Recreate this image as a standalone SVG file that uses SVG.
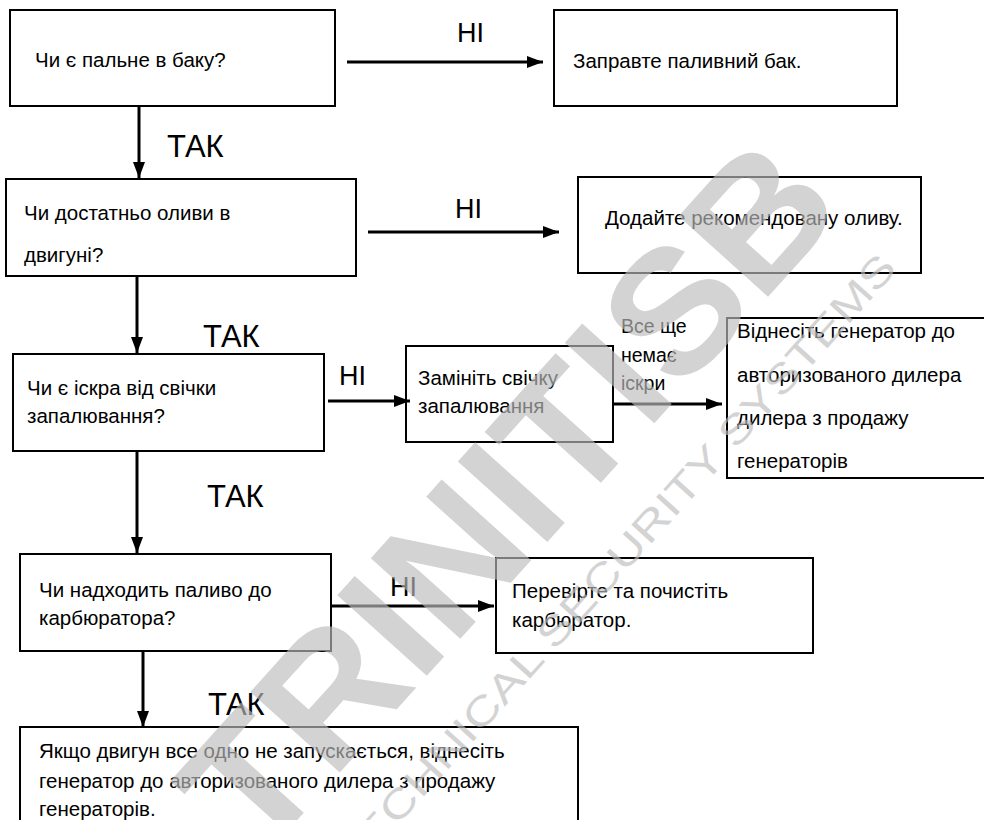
<svg xmlns="http://www.w3.org/2000/svg" width="984" height="820" viewBox="0 0 984 820">
<defs>
<style>
.box{fill:#fff;stroke:#000;stroke-width:2}
.t{font-family:"Liberation Sans",Arial,sans-serif;font-size:20.5px;fill:#000}
.s{font-family:"Liberation Sans",Arial,sans-serif;font-size:19.5px;fill:#000}
.no{font-family:"Liberation Sans",Arial,sans-serif;font-size:27px;fill:#000}
.yes{font-family:"Liberation Sans",Arial,sans-serif;font-size:31px;fill:#000}
.c{stroke:#000;stroke-width:3;fill:none;marker-end:url(#ah)}
.wm{font-family:"Liberation Sans",Arial,sans-serif;fill:#bdbdbd}
</style>
<marker id="ah" markerUnits="userSpaceOnUse" markerWidth="16" markerHeight="12" refX="16" refY="6" orient="auto">
<path d="M0,0 L16,6 L0,12 z" fill="#000"/>
</marker>
</defs>
<rect width="984" height="820" fill="#fff"/>

<g id="n1"><rect class="box" x="10" y="10" width="325" height="96"/><text class="t" x="35" y="67">Чи є пальне в баку?</text></g>
<g id="n2"><rect class="box" x="554" y="10" width="343" height="96"/><text class="t" x="573" y="68">Заправте паливний бак.</text></g>
<g id="n3"><rect class="box" x="6" y="179" width="350" height="97"/><text class="t" x="24" y="220">Чи достатньо оливи в</text><text class="t" x="24" y="262">двигуні?</text></g>
<g id="n4"><rect class="box" x="578" y="177" width="343" height="96"/><text class="t" x="605" y="225">Додайте рекомендовану оливу.</text></g>
<g id="n5"><rect class="box" x="13" y="354" width="311" height="97"/><text class="t" x="27" y="395">Чи є іскра від свічки</text><text class="t" x="27" y="423">запалювання?</text></g>
<g id="n6"><rect class="box" x="406" y="346" width="207" height="96"/><text class="t" x="418" y="385">Замініть свічку</text><text class="t" x="418" y="413">запалювання</text></g>
<g id="n7"><rect class="box" x="727" y="318" width="280" height="160"/><text class="t" x="737" y="338">Віднесіть генератор до</text><text class="t" x="737" y="382">авторизованого дилера</text><text class="t" x="737" y="425">дилера з продажу</text><text class="t" x="737" y="468">генераторів</text></g>
<g id="n8"><rect class="box" x="20" y="554" width="311" height="97"/><text class="t" x="39" y="597">Чи надходить паливо до</text><text class="t" x="39" y="625">карбюратора?</text></g>
<g id="n9"><rect class="box" x="496" y="558" width="317" height="95"/><text class="t" x="512" y="598">Перевірте та почистіть</text><text class="t" x="512" y="627">карбюратор.</text></g>
<g id="n10"><rect class="box" x="20" y="727" width="558" height="120"/><text class="t" x="39" y="758">Якщо двигун все одно не запускається, віднесіть</text><text class="t" x="39" y="788">генератор до авторизованого дилера з продажу</text><text class="t" x="39" y="816">генераторів.</text></g>

<g id="connectors">
<line class="c" x1="347" y1="62" x2="543" y2="62"/>
<line class="c" x1="139" y1="106" x2="139" y2="178"/>
<line class="c" x1="368" y1="232" x2="559" y2="232"/>
<line class="c" x1="137" y1="277" x2="137" y2="353"/>
<line class="c" x1="328" y1="401" x2="410" y2="401"/>
<line class="c" x1="613" y1="404" x2="722" y2="404"/>
<line class="c" x1="137" y1="452" x2="137" y2="553"/>
<line class="c" x1="331" y1="606" x2="494" y2="606"/>
<line class="c" x1="143" y1="652" x2="143" y2="727"/>
</g>

<g id="labels">
<text class="no" x="457" y="42">НІ</text>
<text class="no" x="455" y="218">НІ</text>
<text class="no" x="339" y="385">НІ</text>
<text class="no" x="390" y="596">НІ</text>
<text class="yes" x="167" y="157">ТАК</text>
<text class="yes" x="203" y="347">ТАК</text>
<text class="yes" x="207" y="507">ТАК</text>
<text class="yes" x="208" y="715">ТАК</text>
<text class="s" x="621" y="333">Все ще</text>
<text class="s" x="621" y="362">немає</text>
<text class="s" x="621" y="390">іскри</text>
</g>

<g id="watermark" opacity="0.65">
<text class="wm" font-weight="bold" font-size="175" text-anchor="middle" x="0" y="60" textLength="880" lengthAdjust="spacingAndGlyphs" transform="translate(508,496) rotate(-48)">TRINITISB</text>
<text class="wm" font-size="40" x="0" y="0" textLength="815" lengthAdjust="spacingAndGlyphs" transform="translate(353,875) rotate(-48)">TECHNICAL SECURITY SYSTEMS</text>
</g>
</svg>
